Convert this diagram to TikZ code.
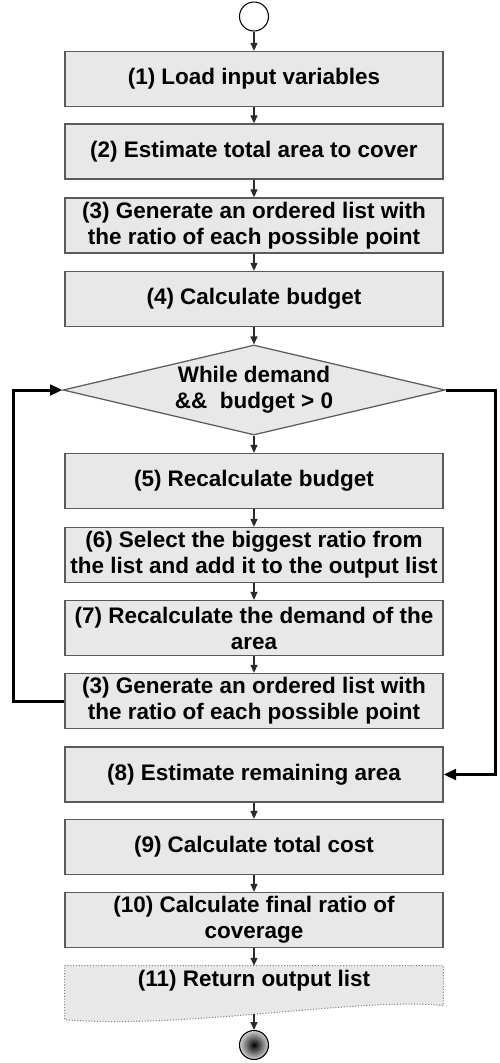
\documentclass[tikz,border=0pt]{standalone}
\usepackage{fontspec}
\setmainfont{Liberation Sans}
\usetikzlibrary{shapes.geometric,arrows.meta,positioning,backgrounds,calc}
\definecolor{boxFill}{HTML}{E8E8E8}
\definecolor{boxStroke}{HTML}{5A5A5A}
\definecolor{lineDark}{HTML}{2A2A2A}

\begin{document}
\begin{tikzpicture}[
    font=\fontsize{12.8}{14.8}\selectfont\bfseries,
    >=Triangle,
    procBox/.style={
        rectangle, draw=boxStroke, line width=0.8pt,
        fill=boxFill,
        minimum width=7.56cm, minimum height=1.1cm,
        inner sep=2pt, align=center
    },
    condNode/.style={
        diamond, draw=boxStroke, line width=0.7pt,
        fill=boxFill, aspect=4.2, inner sep=0pt,
        minimum width=7.64cm, minimum height=1.8cm,
        align=center
    },
    docNode/.style={
        rectangle, minimum width=7.56cm, minimum height=0.6cm,
        inner sep=2pt, align=center
    },
    termNode/.style={circle, draw=black, line width=0.6pt, minimum size=0.58cm, inner sep=0pt},
    flow/.style={-{Triangle[length=4.5pt,width=4pt]}, line width=0.6pt, draw=lineDark},
    loopback/.style={-{Triangle[length=7pt,width=6pt]}, line width=1.7pt, draw=black}
]
\useasboundingbox (0,0) rectangle (10,-21.26);

% main column, centres
\node[termNode, fill=white] (start) at (5.08,-0.33) {};
\node[procBox] (load) at (5.08,-1.58) {(1) Load input variables};
\node[procBox] (area) at (5.08,-3.03) {(2) Estimate total area to cover};
\node[procBox] (gen) at (5.08,-4.51) {(3) Generate an ordered list with\\the ratio of each possible point};
\node[procBox] (budget) at (5.08,-5.98) {(4) Calculate budget};
\node[condNode] (cond) at (5.08,-7.8) {While demand\\\&\& \ budget > 0};
\node[procBox] (rebudget) at (5.08,-9.62) {(5) Recalculate budget};
\node[procBox] (select) at (5.08,-11.1) {(6) Select the biggest ratio from\\the list and add it to the output list};
\node[procBox] (demand) at (5.08,-12.56) {(7) Recalculate the demand of the\\area};
\node[procBox] (regen) at (5.08,-14.02) {(3) Generate an ordered list with\\the ratio of each possible point};
\node[procBox] (remain) at (5.08,-15.49) {(8) Estimate remaining area};
\node[procBox] (cost) at (5.08,-16.94) {(9) Calculate total cost};
\node[procBox] (final) at (5.08,-18.4) {(10) Calculate final ratio of\\coverage};
\node[docNode] (ret) at (5.08,-19.62) {(11) Return output list};
\node[termNode, inner color=black, outer color=gray!35] (stop) at (5.08,-20.9) {};

% document shape behind the last step
\begin{scope}[on background layer]
  \draw[draw=gray, densely dotted, line width=0.6pt, fill=boxFill]
    (ret.north west) -- (ret.north east) -- ($(ret.north east)+(0,-0.8)$)
    .. controls ($(ret.north)+(2.2,-0.62)$) and ($(ret.north)+(-1.4,-1.28)$) .. ($(ret.north west)+(0,-1.08)$)
    -- cycle;
\end{scope}
\coordinate (retBottom) at ($(ret.north)+(0,-0.97)$);

\draw[flow] (start) -- (load);
\draw[flow] (load) -- (area);
\draw[flow] (area) -- (gen);
\draw[flow] (gen) -- (budget);
\draw[flow] (budget) -- (cond);
\draw[flow] (cond) -- (rebudget);
\draw[flow] (rebudget) -- (select);
\draw[flow] (select) -- (demand);
\draw[flow] (demand) -- (regen);
\draw[flow] (remain) -- (cost);
\draw[flow] (cost) -- (final);
\draw[flow] (final.south) -- (ret.north);
\draw[flow] (retBottom) -- (stop.north);

% loop back and exit
\draw[loopback] (regen.west) -- ++(-1.02,0) |- (cond.west);
\draw[loopback] (cond.east) -- ++(1.0,0) |- (remain.east);

\end{tikzpicture}
\end{document}
